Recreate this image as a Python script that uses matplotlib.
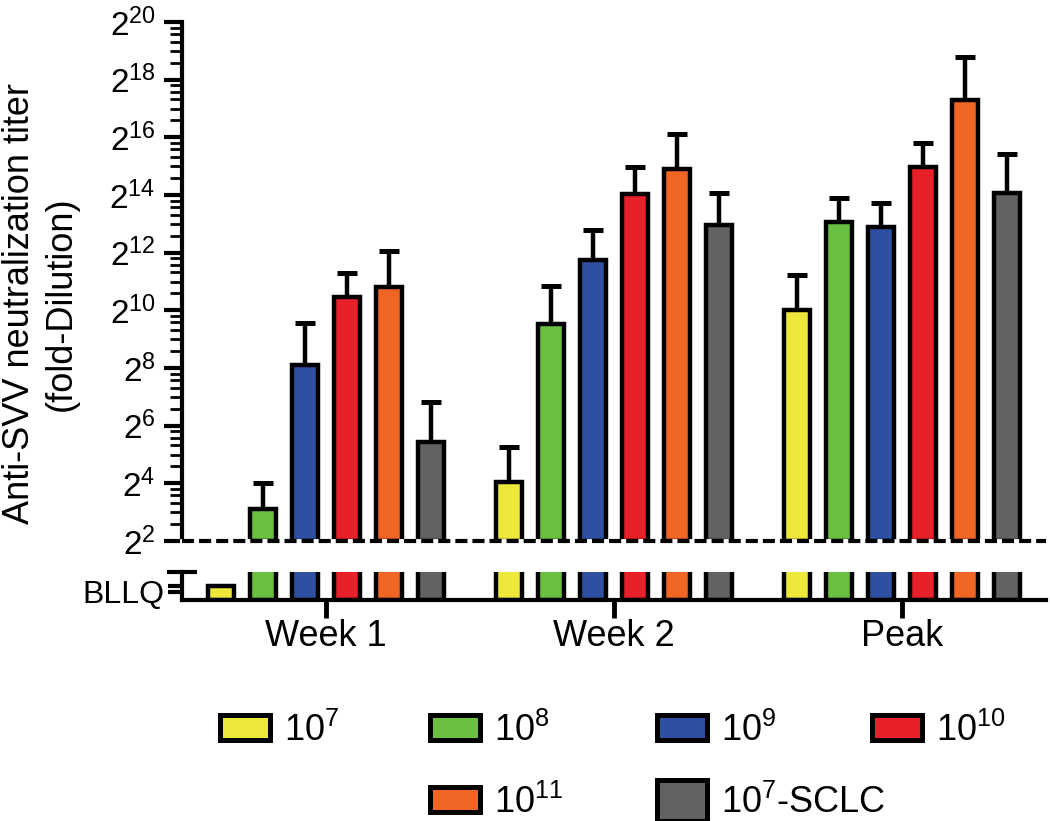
import numpy as np
import matplotlib
matplotlib.use("Agg")
import matplotlib.pyplot as plt
from matplotlib.patches import Rectangle
from matplotlib.ticker import FixedLocator, FuncFormatter, NullFormatter

plt.rcParams['font.family'] = ['Liberation Sans', 'DejaVu Sans']
plt.rcParams['mathtext.fontset'] = 'custom'
plt.rcParams['mathtext.rm'] = 'Liberation Sans'
plt.rcParams['mathtext.default'] = 'regular'

# -----------------------------------------------------------
#   data : log2 of the neutralization titer
#   nan = below lower limit of quantification (BLLQ)
# -----------------------------------------------------------
groups = ["Week 1", "Week 2", "Peak"]
doses = ["$10^{7}$", "$10^{8}$", "$10^{9}$", "$10^{10}$", "$10^{11}$", "$10^{7}$-SCLC"]
colors = ["#EEE83A", "#6ABF40", "#2F4FA2", "#E8202A", "#F06424", "#626262"]

week1_log2 = [np.nan, 3.11, 8.10, 10.46, 10.81, 5.43]
week2_log2 = [4.05, 9.53, 11.73, 14.04, 14.90, 12.96]
peak_log2 = [10.01, 13.07, 12.90, 14.96, 17.30, 14.07]

# top of the error bar (log2)
week1_err = [np.nan, 4.01, 9.56, 11.30, 12.06, 6.82]
week2_err = [5.26, 10.84, 12.77, 14.96, 16.12, 14.07]
peak_err = [11.23, 13.90, 13.72, 15.81, 18.77, 15.41]

means = np.array([week1_log2, week2_log2, peak_log2])
tops = np.array([week1_err, week2_err, peak_err])

W, H = 1050, 821
fig = plt.figure(figsize=(W / 100, H / 100), dpi=100)

ax = fig.add_axes([182 / W, 1 - 541 / H, 864 / W, 519 / H])
axl = fig.add_axes([182 / W, 1 - 600 / H, 864 / W, 28 / H])

pitch = 0.146
width = 0.092
lw_edge = 3.2

for j in range(len(doses)):
    x = np.arange(len(groups)) + (j - 2.5) * pitch
    v = means[:, j]
    ok = ~np.isnan(v)
    # upper part (log2 scale, starts at 2^2)
    ax.errorbar(x[ok], 2 ** v[ok], yerr=[np.zeros(ok.sum()), 2 ** tops[ok, j] - 2 ** v[ok]],
                fmt='none', ecolor='k', elinewidth=3.2, capsize=7, capthick=3.6, zorder=1)
    ax.bar(x[ok], 2 ** v[ok] - 4, bottom=4, width=width, color=colors[j],
           edgecolor='k', linewidth=lw_edge, zorder=2)
    # lower part (BLLQ section)
    h = np.where(ok, 1.6, 0.5)
    axl.bar(x, h, width=width, color=colors[j], edgecolor='k', linewidth=lw_edge, zorder=2)

# ---- upper axis ----
ax.set_yscale('log', base=2)
ax.set_ylim(4, 2 ** 20)
ax.set_xlim(-0.5, 2.5)
for s in ['top', 'right', 'bottom']:
    ax.spines[s].set_visible(False)
ax.spines['left'].set_linewidth(3)
ax.yaxis.set_major_locator(FixedLocator(2.0 ** np.arange(2, 21, 2)))
ax.yaxis.set_major_formatter(FuncFormatter(lambda v, p: "$2^{%d}$" % round(np.log2(v))))
minor = [2.0 ** k * s for k in range(2, 20, 2) for s in [1.5, 2, 2.5, 3, 3.5]]
ax.yaxis.set_minor_locator(FixedLocator(minor))
ax.yaxis.set_minor_formatter(NullFormatter())
ax.tick_params(axis='y', which='major', length=13, width=3, labelsize=24, pad=6)
ax.tick_params(axis='y', which='minor', length=9, width=2)
ax.tick_params(axis='x', bottom=False, labelbottom=False)

# dashed break line at 2^2
ax.axhline(4, color='white', lw=3.5, zorder=5, clip_on=False)
ax.axhline(4, color='k', lw=3, dashes=(2.9, 1.2), zorder=6, clip_on=False)

# ---- lower axis ----
axl.set_ylim(0, 1)
axl.set_xlim(-0.5, 2.5)
for s in ['top', 'right']:
    axl.spines[s].set_visible(False)
axl.spines['left'].set_linewidth(3)
axl.spines['bottom'].set_linewidth(3)
axl.set_xticks(range(len(groups)))
axl.set_xticklabels(groups, fontsize=26)
axl.tick_params(axis='x', length=13, width=3.5, pad=1)
axl.set_yticks([0.29, 0.5])
axl.set_yticklabels(["BLLQ", ""], fontsize=23)
axl.tick_params(axis='y', which='major', length=10, width=3, pad=3)
axl.yaxis.set_minor_locator(FixedLocator([1.0]))
axl.tick_params(axis='y', which='minor', direction='inout', length=22, width=3)

fig.text(40 / W, 1 - 304 / H, "Anti-SVV neutralization titer\n(fold-Dilution)",
         rotation=90, ha='center', va='center', fontsize=26, linespacing=1.25)

# ---- legend (manual layout, 4 columns, second row starts in column 2) ----
col_left = [220, 430, 657, 872]
row_base = [741, 813]
slots = [(0, 0), (1, 0), (2, 0), (3, 0), (1, 1), (2, 1)]
for j, (c, r) in enumerate(slots):
    px = col_left[c]
    if j == 5:
        y0, ph = 780, 41
    else:
        y0, ph = row_base[r] - 26, 25
    fig.add_artist(Rectangle((px / W, 1 - (y0 + ph) / H), 50 / W, ph / H,
                             transform=fig.transFigure, facecolor=colors[j],
                             edgecolor='k', linewidth=3.6))
    fig.text((px + 64) / W, 1 - row_base[r] / H, doses[j], fontsize=26, va='baseline')

fig.savefig("out.png", dpi=100)
